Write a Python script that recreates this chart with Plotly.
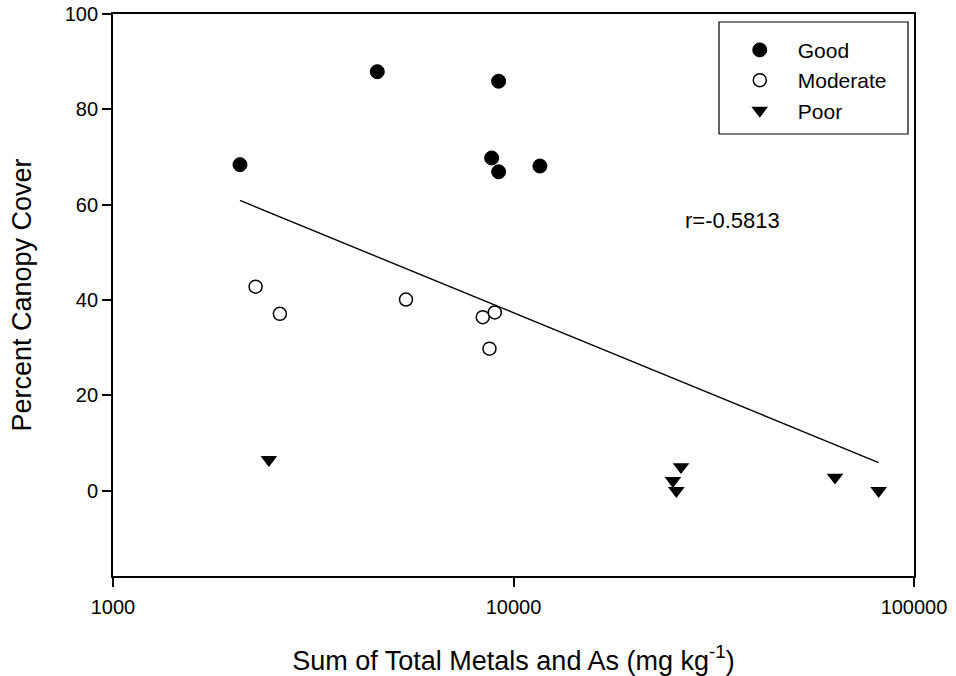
import numpy as np
import plotly.graph_objects as go

# Sum of total metals and As (mg/kg) and percent canopy cover, by site condition
good_metals = [2075, 4570, 9180, 8820, 9180, 11640]
good_canopy = [68.4, 87.9, 85.9, 69.8, 66.9, 68.1]

moderate_metals = [2270, 2610, 5390, 8380, 8980, 8710]
moderate_canopy = [42.8, 37.1, 40.1, 36.4, 37.4, 29.8]

poor_metals = [2450, 26200, 25000, 25500, 63500, 81600]
poor_canopy = [6.5, 5.0, 2.1, 0.0, 2.8, 0.0]

r_label = "r=-0.5813"

x_ticks = [1000, 10000, 100000]
y_ticks = [0, 20, 40, 60, 80, 100]

FONT = "Liberation Sans, Arial, Helvetica, sans-serif"

# least-squares fit of canopy cover against log10(metals)
all_x = np.array(good_metals + moderate_metals + poor_metals, dtype=float)
all_y = np.array(good_canopy + moderate_canopy + poor_canopy, dtype=float)
lx = np.log10(all_x)
slope, intercept = np.polyfit(lx, all_y, 1)
fit_lx = np.array([lx.min(), lx.max()])
fit_x = 10 ** fit_lx
fit_y = intercept + slope * fit_lx

fig = go.Figure()

fig.add_trace(go.Scatter(
    x=good_metals, y=good_canopy, mode="markers", name="Good",
    marker=dict(symbol="circle", size=14, color="black",
                line=dict(color="black", width=1)),
))
fig.add_trace(go.Scatter(
    x=moderate_metals, y=moderate_canopy, mode="markers", name="Moderate",
    marker=dict(symbol="circle", size=13, color="white",
                line=dict(color="black", width=1.5)),
))
fig.add_trace(go.Scatter(
    x=poor_metals, y=poor_canopy, mode="markers", name="Poor",
    marker=dict(symbol="triangle-down", size=14.5, color="black",
                line=dict(color="black", width=0)),
))
fig.add_trace(go.Scatter(
    x=fit_x, y=fit_y, mode="lines", showlegend=False,
    line=dict(color="black", width=1.4),
))

fig.update_layout(
    width=956, height=676,
    margin=dict(l=113, r=42, t=14, b=100, autoexpand=False),
    paper_bgcolor="white", plot_bgcolor="white",
    font=dict(family=FONT, size=21, color="black"),
    showlegend=True,
    legend=dict(
        x=0.76, y=0.972, xanchor="left", yanchor="top",
        bgcolor="rgba(0,0,0,0)", borderwidth=0,
        itemwidth=66, font=dict(size=21, family=FONT, color="black"),
    ),
    shapes=[dict(
        type="rect", xref="paper", yref="paper",
        x0=(719 - 113) / 801, x1=(908 - 113) / 801,
        y0=(576 - 134) / 562, y1=(576 - 22) / 562,
        line=dict(color="black", width=1.2), fillcolor="rgba(0,0,0,0)",
        layer="above",
    )],
    annotations=[dict(
        text=r_label, xref="paper", yref="paper",
        x=0.773, y=0.632, xanchor="center", yanchor="middle",
        showarrow=False, font=dict(size=22, family=FONT, color="black"),
    )],
)

fig.update_xaxes(
    type="log", range=[3, 5],
    tickvals=x_ticks, ticktext=[str(v) for v in x_ticks],
    ticks="outside", ticklen=9, tickwidth=1.5, tickcolor="black",
    ticklabelstandoff=3,
    showline=True, linecolor="black", linewidth=1.8, mirror=True,
    showgrid=False, zeroline=False,
    tickfont=dict(size=20, family=FONT, color="black"),
    title=dict(text="Sum of Total Metals and As (mg kg<sup>-1</sup>)",
               font=dict(size=27, family=FONT, color="black"), standoff=34),
)
fig.update_yaxes(
    range=[-17.9, 100],
    tickvals=y_ticks, ticktext=[str(v) for v in y_ticks],
    ticks="outside", ticklen=9, tickwidth=1.5, tickcolor="black",
    showline=True, linecolor="black", linewidth=1.8, mirror=True,
    showgrid=False, zeroline=False,
    tickfont=dict(size=20, family=FONT, color="black"),
    title=dict(text="Percent Canopy Cover",
               font=dict(size=27, family=FONT, color="black"), standoff=25),
)

fig.write_html("out.html")
